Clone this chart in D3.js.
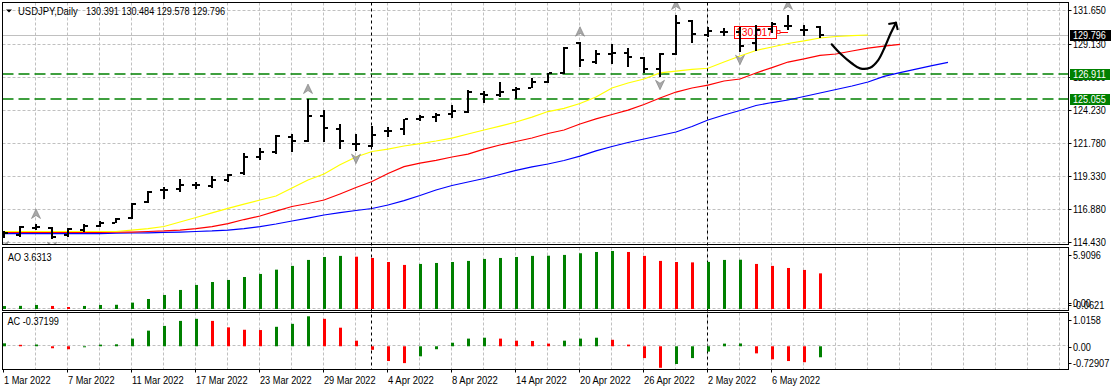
<!DOCTYPE html>
<html>
<head>
<meta charset="utf-8">
<script src="https://cdn.jsdelivr.net/npm/d3@7"></script>
<style>
  body { margin: 0; background: #fff; }
  svg { display: block; }
</style>
</head>
<body>
<svg id="chart"></svg>
<script>
// USDJPY daily, 1 Mar 2022 - 11 May 2022 (52 bars)
const open  = [114.95,114.97,115.49,115.47,114.93,115.32,115.64,115.86,116.19,117.38,118.27,118.37,118.64,118.59,119.04,119.54,120.77,121.14,122.27,121.96,123.80,122.85,121.72,121.59,122.66,122.81,123.60,123.70,123.92,124.07,125.43,125.38,125.71,125.88,126.30,126.97,129.20,127.84,128.43,128.46,128.09,127.27,128.41,130.84,129.84,130.07,130.07,129.20,130.24,130.47,130.19,130.391];
const high  = [115.25,115.62,115.77,115.57,115.45,115.77,116.01,116.24,117.31,118.20,118.50,119.09,118.91,119.34,119.49,121.02,121.40,122.39,122.44,125.06,124.24,123.18,122.44,123.05,122.96,123.60,123.90,124.00,124.62,125.73,125.66,126.30,125.93,126.65,126.96,128.91,129.32,128.71,129.13,128.83,128.16,128.51,131.31,130.94,130.44,130.32,130.44,130.56,130.81,131.31,130.56,130.484];
const low   = [114.74,114.80,115.32,114.67,114.82,115.19,115.52,115.82,116.12,117.31,117.65,118.15,118.35,118.42,118.91,119.41,120.53,120.97,121.14,121.89,121.89,121.32,121.22,121.47,122.21,122.39,123.40,123.37,123.63,124.04,124.74,125.23,125.04,125.86,126.25,126.91,127.46,127.66,127.66,127.46,127.02,126.72,128.33,129.25,129.65,129.75,128.58,128.65,129.95,130.19,129.75,129.578];
const close = [115.12,115.57,115.52,114.80,115.37,115.64,115.82,116.14,117.25,118.12,118.32,118.69,118.67,119.04,119.39,120.77,121.14,122.31,121.94,123.80,122.93,121.94,121.75,122.39,122.68,123.55,123.70,123.85,124.19,125.61,125.36,125.61,125.81,126.30,126.96,128.85,127.96,128.39,128.48,128.16,127.27,128.41,130.69,129.90,130.10,130.05,129.00,130.19,130.64,130.51,130.17,129.796];

// alligator lines, already shifted forward (lips +3, teeth +5, jaw +8)
const lips  = [115.21,115.21,115.21,115.21,115.21,115.21,115.21,115.21,115.32,115.43,115.58,115.92,116.25,116.59,116.93,117.25,117.55,117.85,118.44,119.04,119.49,120.17,120.75,121.16,121.34,121.57,121.75,121.94,122.16,122.46,122.76,123.05,123.35,123.72,124.13,124.37,124.73,125.21,125.88,126.25,126.55,127.00,127.14,127.26,127.35,127.81,128.26,128.67,128.93,129.19,129.38,129.60,129.71,129.78,129.82];
const teeth = [115.15,115.15,115.15,115.15,115.15,115.15,115.15,115.17,115.17,115.21,115.25,115.32,115.43,115.58,115.80,116.10,116.36,116.73,117.07,117.29,117.55,118.00,118.48,118.93,119.52,120.03,120.30,120.50,120.75,120.97,121.34,121.64,121.90,122.16,122.50,122.76,123.20,123.58,123.91,124.24,124.65,125.14,125.58,125.88,126.10,126.40,126.55,127.00,127.40,127.81,128.04,128.30,128.41,128.63,128.85,129.00,129.13];
const jaw   = [115.06,115.06,115.06,115.06,115.06,115.06,115.06,115.08,115.10,115.11,115.14,115.17,115.21,115.25,115.32,115.43,115.58,115.77,115.99,116.21,116.44,116.62,116.77,116.92,117.18,117.51,117.89,118.30,118.63,118.89,119.15,119.45,119.75,120.01,120.23,120.49,120.82,121.20,121.53,121.83,122.09,122.35,122.61,123.02,123.50,123.87,124.21,124.58,124.80,124.99,125.25,125.51,125.77,126.03,126.33,126.74,127.03,127.29,127.55,127.79];

const ao = [0.30,0.32,0.41,0.31,0.20,0.31,0.41,0.43,0.65,1.02,1.43,1.94,2.45,2.75,2.96,3.26,3.57,4.01,4.39,5.00,5.30,5.41,5.33,5.20,4.79,4.49,4.59,4.69,4.79,4.90,5.10,5.20,5.30,5.41,5.43,5.51,5.68,5.81,5.9096,5.81,5.41,4.90,4.79,4.75,4.80,5.00,5.02,4.59,4.39,4.18,3.98,3.6313];
const ac = [0.10,0.05,0.06,-0.067,-0.10,-0.01,0.056,0.067,0.26,0.53,0.69,0.86,0.93,0.86,0.64,0.56,0.55,0.66,0.76,1.0158,0.93,0.63,0.19,-0.12,-0.50,-0.57,-0.34,-0.10,0.12,0.26,0.29,0.26,0.19,0.18,0.09,0.19,0.26,0.29,0.22,0.056,-0.40,-0.72907,-0.60,-0.40,-0.18,0.09,0.095,-0.24,-0.44,-0.50,-0.54,-0.37199];

const fractalUp = [2, 19, 36, 42, 49];
const fractalDown = [0, 3, 22, 41, 46];

const priceTicks = [114.43, 116.88, 119.33, 121.78, 124.23, 126.68, 129.13, 131.65];
const dateLabels = ["1 Mar 2022","7 Mar 2022","11 Mar 2022","17 Mar 2022","23 Mar 2022","29 Mar 2022","4 Apr 2022","8 Apr 2022","14 Apr 2022","20 Apr 2022","26 Apr 2022","2 May 2022","6 May 2022"];
const dateBars = [0, 4, 8, 12, 16, 20, 24, 28, 32, 36, 40, 44, 48];
const monthStarts = [23, 44];

const levels = [126.911, 125.055];
const markPrice = 130.017, markBar = 48.5;
// hand drawn forecast arrow (bar index, price)
const sketchPath = [[51.73,129.13],[52.25,128.46],[52.98,127.72],[53.5,127.34],[54.13,127.39],[54.64,127.96],[55.06,128.95],[55.42,129.95],[55.75,130.74]];
const sketchHead = [[55.27,130.64],[55.75,130.74],[55.86,130.19]];

const chartSize = {width: 1114, height: 391};
const left = 2.5, right = 1068.5;
const mainP = {top: 2.5, bottom: 244.5};
const aoP = {top: 247.5, bottom: 310.5};
const acP = {top: 312.5, bottom: 369.5};

// rough glyph widths of the terminal font, to pin text widths
const glyphW = {".": 2.8, ",": 2.8, " ": 2.6, "-": 3.5, M: 7.3, a: 5.4, r: 3.7, A: 6.2, p: 5.7, y: 5.1,
  U: 6.7, S: 5.7, D: 6.9, J: 4.2, P: 5.8, Y: 5.7, i: 2.3, l: 2.3, C: 6.3, O: 7.0};
const textW = s => d3.sum(s.split(""), c => /[0-9]/.test(c) ? 5.0 : (glyphW[c] || 5.4));

const svg = d3.select("#chart")
  .attr("width", chartSize.width)
  .attr("height", chartSize.height);

const label = (sel) => sel
  .attr("font-family", "'Liberation Sans', Arial, sans-serif")
  .attr("font-size", 10)
  .attr("lengthAdjust", "spacingAndGlyphs")
  .attr("textLength", function () { return textW(this.textContent); });

const x = d3.scaleLinear().domain([0, 1]).range([4, 20]);
const y = d3.scaleLinear().domain([114.43, 129.13]).range([242, 44.3]);
const yAO = d3.scaleLinear().domain([0, 5.9096]).range([309, 251]);
const yAC = d3.scaleLinear().domain([-0.72907, 1.0158]).range([367.8, 316.3]);
const px = v => Math.round(v) + 0.5;

const defs = svg.append("defs");
[["clipMain", mainP], ["clipAO", aoP], ["clipAC", acP]].forEach(([id, p]) => {
  defs.append("clipPath").attr("id", id).append("rect")
    .attr("x", left + 0.5).attr("y", p.top + 0.5)
    .attr("width", right - left - 1).attr("height", p.bottom - p.top - 1);
});

const gridX = d3.range(2, 67, 2).map(i => Math.round(x(i)) - 0.5);

// grids of every panel
[[mainP, "clipMain"], [aoP, "clipAO"], [acP, "clipAC"]].forEach(([p, clip]) => {
  svg.append("g").attr("clip-path", `url(#${clip})`)
    .selectAll("line").data(gridX).join("line")
    .attr("x1", d => d).attr("x2", d => d)
    .attr("y1", p.top).attr("y2", p.bottom)
    .attr("stroke", "#c0c0c0").attr("stroke-dasharray", "3,2");
});

const main = svg.append("g").attr("clip-path", "url(#clipMain)");

main.selectAll("line.hgrid").data(priceTicks).join("line")
  .attr("class", "hgrid")
  .attr("x1", left).attr("x2", right)
  .attr("y1", d => px(y(d))).attr("y2", d => px(y(d)))
  .attr("stroke", "#c0c0c0").attr("stroke-dasharray", "3,2");

// bid line
main.append("line")
  .attr("x1", left).attr("x2", right)
  .attr("y1", px(y(close[close.length - 1]))).attr("y2", px(y(close[close.length - 1])))
  .attr("stroke", "#c0c0c0");

// horizontal levels
main.selectAll("line.level").data(levels).join("line")
  .attr("class", "level")
  .attr("x1", left).attr("x2", right)
  .attr("y1", d => Math.round(y(d))).attr("y2", d => Math.round(y(d)))
  .attr("stroke", "#008000").attr("stroke-width", 1.5).attr("stroke-dasharray", "11,5");

// period separators
svg.selectAll("line.sep").data(monthStarts).join("line")
  .attr("class", "sep")
  .attr("x1", i => Math.round(x(i)) - 0.5).attr("x2", i => Math.round(x(i)) - 0.5)
  .attr("y1", mainP.top).attr("y2", acP.bottom)
  .attr("stroke", "#000").attr("stroke-dasharray", "3,3");

// price label object
const mx = x(markBar), my = Math.round(y(markPrice));
main.append("rect")
  .attr("x", mx - 45.5).attr("y", my - 5.5).attr("width", 42).attr("height", 12)
  .attr("fill", "#fff").attr("stroke", "#ff0000");
main.append("text")
  .attr("x", mx - 44).attr("y", my + 4)
  .attr("fill", "#ff0000")
  .text(markPrice.toFixed(3))
  .call(label)
  .attr("textLength", 37);
main.append("rect")
  .attr("x", mx - 3).attr("y", my - 1.5).attr("width", 3).attr("height", 3)
  .attr("fill", "#fff").attr("stroke", "#ff0000").attr("stroke-width", 0.8);
main.append("line")
  .attr("x1", mx).attr("x2", mx + 8).attr("y1", my + 0.5).attr("y2", my + 0.5)
  .attr("stroke", "#ff0000");

// alligator
const lineGen = d3.line().x((d, i) => x(i)).y(d => y(d));
[[jaw, "#0000ff"], [teeth, "#ff0000"], [lips, "#ffff00"]].forEach(([data, color]) => {
  main.append("path").datum(data)
    .attr("d", lineGen)
    .attr("fill", "none").attr("stroke", color).attr("stroke-width", 1.2);
});

// OHLC bars
const barG = main.selectAll("g.bar").data(d3.range(close.length)).join("g").attr("class", "bar");
barG.append("rect")
  .attr("x", i => Math.round(x(i)) - 1)
  .attr("y", i => Math.round(y(high[i])))
  .attr("width", 2)
  .attr("height", i => Math.max(2, Math.round(y(low[i])) - Math.round(y(high[i]))));
barG.append("rect")
  .attr("x", i => Math.round(x(i)) - 4)
  .attr("y", i => Math.round(y(open[i])) - 1)
  .attr("width", 3).attr("height", 2);
barG.append("rect")
  .attr("x", i => Math.round(x(i)) + 1)
  .attr("y", i => Math.round(y(close[i])) - 1)
  .attr("width", 3).attr("height", 2);

// fractals
const arrowUp = "M0,-5 L4.5,4.5 L0,1.5 L-4.5,4.5 Z";
const arrowDown = "M0,5 L4.5,-4.5 L0,-1.5 L-4.5,-4.5 Z";
main.selectAll("path.fu").data(fractalUp).join("path")
  .attr("class", "fu")
  .attr("transform", i => `translate(${x(i)},${y(high[i]) - 10})`)
  .attr("d", arrowUp).attr("fill", "#a8a8a8").attr("stroke", "#7c7c7c").attr("stroke-width", 0.6);
main.selectAll("path.fd").data(fractalDown).join("path")
  .attr("class", "fd")
  .attr("transform", i => `translate(${x(i)},${y(low[i]) + 8})`)
  .attr("d", arrowDown).attr("fill", "#a8a8a8").attr("stroke", "#7c7c7c").attr("stroke-width", 0.6);

// sketch arrow
const sketchLine = d3.line().x(d => x(d[0])).y(d => y(d[1])).curve(d3.curveCatmullRom);
main.append("path").datum(sketchPath).attr("d", sketchLine)
  .attr("fill", "none").attr("stroke", "#000").attr("stroke-width", 2.2).attr("stroke-linecap", "round");
main.append("path").datum(sketchHead).attr("d", d3.line().x(d => x(d[0])).y(d => y(d[1])))
  .attr("fill", "none").attr("stroke", "#000").attr("stroke-width", 2).attr("stroke-linejoin", "round");

// title
svg.append("path").attr("d", "M6,9.5 L12,9.5 L9,12.5 Z").attr("fill", "#000");
svg.append("text").attr("x", 18).attr("y", 15).text("USDJPY,Daily").call(label);
svg.append("text").attr("x", 86).attr("y", 15)
  .text([open, high, low, close].map(a => a[a.length - 1].toFixed(3)).join(" "))
  .call(label);

// AO
const aoG = svg.append("g").attr("clip-path", "url(#clipAO)");
aoG.append("line").attr("x1", left).attr("x2", right).attr("y1", 308.5).attr("y2", 308.5)
  .attr("stroke", "#c0c0c0").attr("stroke-dasharray", "3,2");
aoG.selectAll("rect").data(ao).join("rect")
  .attr("x", (d, i) => Math.round(x(i)) - 1)
  .attr("y", d => yAO(d))
  .attr("width", 3)
  .attr("height", d => yAO(0) - yAO(d))
  .attr("fill", (d, i) => (i === 0 || d > ao[i - 1]) ? "#008000" : "#ff0000");
svg.append("text").attr("x", 8).attr("y", 261).text(`AO ${ao[ao.length - 1]}`).call(label);

// AC
const acG = svg.append("g").attr("clip-path", "url(#clipAC)");
acG.append("line").attr("x1", left).attr("x2", right)
  .attr("y1", px(yAC(0)) - 1).attr("y2", px(yAC(0)) - 1)
  .attr("stroke", "#c0c0c0").attr("stroke-dasharray", "3,2");
acG.selectAll("rect").data(ac).join("rect")
  .attr("x", (d, i) => Math.round(x(i)) - 1)
  .attr("y", d => Math.min(yAC(d), yAC(0)))
  .attr("width", 3)
  .attr("height", d => Math.max(1, Math.abs(yAC(d) - yAC(0))))
  .attr("fill", (d, i) => (i === 0 || d > ac[i - 1]) ? "#008000" : "#ff0000");
svg.append("text").attr("x", 7.5).attr("y", 325).text(`AC ${ac[ac.length - 1]}`).call(label);

// panel borders
[mainP, aoP, acP].forEach(p => {
  svg.append("rect")
    .attr("x", left).attr("y", p.top)
    .attr("width", right - left).attr("height", p.bottom - p.top)
    .attr("fill", "none").attr("stroke", "#000");
});

// price axis
const axisG = svg.append("g");
axisG.selectAll("line").data(priceTicks).join("line")
  .attr("x1", right).attr("x2", right + 3)
  .attr("y1", d => px(y(d))).attr("y2", d => px(y(d)))
  .attr("stroke", "#000");
axisG.selectAll("text").data(priceTicks).join("text")
  .attr("x", 1073).attr("y", d => y(d) + 4)
  .text(d => d.toFixed(3))
  .call(label);

// level tags
const tags = [[close[close.length - 1], "#000", 41], ...levels.map(l => [l, "#008000", 40])];
tags.forEach(([v, color, w]) => {
  const ty = Math.round(y(v));
  svg.append("rect").attr("x", 1070).attr("y", ty - 5).attr("width", w).attr("height", 11)
    .attr("fill", color);
  svg.append("text").attr("x", 1073).attr("y", ty + 4).attr("fill", "#fff")
    .text(v.toFixed(3))
    .call(label);
});

// AO / AC axis labels
const subTicks = [
  [254.5, "5.9096"], [302.5, "0.00"], [305, "-0.0621"],
  [319.5, "1.0158"], [346.5, "0.00"], [362.5, "-0.72907"]
];
svg.selectAll("line.st").data(subTicks).join("line")
  .attr("class", "st")
  .attr("x1", right).attr("x2", right + 3)
  .attr("y1", d => Math.round(d[0]) + 0.5).attr("y2", d => Math.round(d[0]) + 0.5)
  .attr("stroke", "#000");
svg.selectAll("text.st").data(subTicks).join("text")
  .attr("class", "st")
  .attr("x", 1073).attr("y", d => d[0] + 4)
  .text(d => d[1])
  .call(label);

// time axis
svg.selectAll("line.dt").data(dateBars).join("line")
  .attr("class", "dt")
  .attr("x1", i => Math.round(x(i)) - 0.5).attr("x2", i => Math.round(x(i)) - 0.5)
  .attr("y1", acP.bottom).attr("y2", acP.bottom + 3)
  .attr("stroke", "#000");
svg.selectAll("text.dt").data(dateBars).join("text")
  .attr("class", "dt")
  .attr("x", i => Math.round(x(i))).attr("y", 383.5)
  .text((d, k) => dateLabels[k])
  .call(label);
</script>
</body>
</html>
